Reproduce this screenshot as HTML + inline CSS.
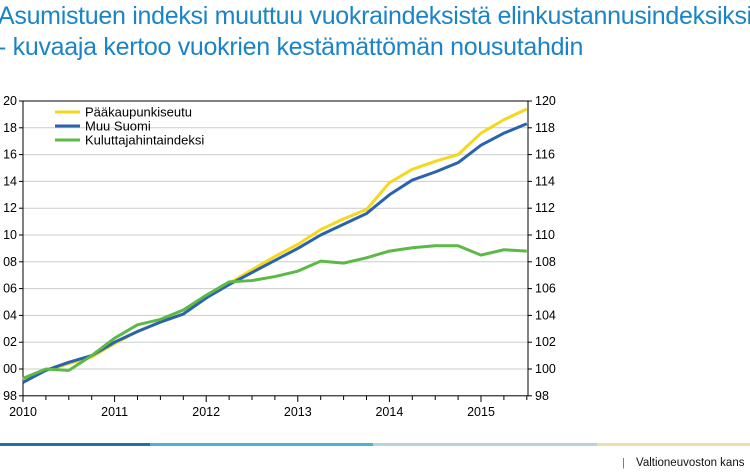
<!DOCTYPE html><html><head><style>
body{margin:0;width:750px;height:474px;background:#fff;overflow:hidden;position:relative;font-family:"Liberation Sans",sans-serif}
.t{position:absolute;left:-2px;color:#1b84c6;font-size:25px;white-space:nowrap;letter-spacing:-0.3px}
</style></head><body>
<div class="t" style="top:2px">Asumistuen indeksi muuttuu vuokraindeksistä elinkustannusindeksiksi</div>
<div class="t" style="top:33px">- kuvaaja kertoo vuokrien kestämättömän nousutahdin</div>
<svg width="750" height="474" style="position:absolute;left:0;top:0" font-family="Liberation Sans, sans-serif" font-size="12.5">
<g id="g"></g>
<rect x="0" y="443" width="150" height="3" fill="#2270a8"/>
<rect x="150" y="443" width="223" height="3" fill="#4cb3d6"/>
<rect x="373" y="443" width="224" height="3" fill="#b8d3da"/>
<rect x="597" y="443" width="153" height="3" fill="#eedfa8"/>
<text x="622" y="466" font-size="11" fill="#1b84c6">|</text>
<text x="636" y="466" font-size="11.5" fill="#111">Valtioneuvoston kans</text>
</svg>
<script>
const g=document.getElementById('g');let s='';
const X=t=>23+(t-2010)*91.6, Y=v=>369-(v-100)*13.4;
for(let v=98;v<=120;v+=2){const y=Y(v);
 if(v>98&&v<120)s+=`<line x1="23" x2="528" y1="${y}" y2="${y}" stroke="#ccc"/>`;
 s+=`<line x1="19" x2="23" y1="${y}" y2="${y}" stroke="#000"/><line x1="528" x2="532" y1="${y}" y2="${y}" stroke="#000"/>`;
 s+=`<text x="17" y="${y+4}" text-anchor="end">${String(v%100).padStart(2,'0')}</text><text x="535" y="${y+4}">${v}</text>`;}
s+=`<rect x="23" y="${Y(120)}" width="505" height="${Y(98)-Y(120)}" fill="none" stroke="#000"/>`;
for(let q=0;q<=22;q++){const x=X(2010+q/4);s+=`<line x1="${x}" x2="${x}" y1="396" y2="${q%4?400:402}" stroke="#000"/>`;}
for(let yr=2010;yr<=2015;yr++)s+=`<text x="${X(yr)}" y="416" text-anchor="middle">${yr}</text>`;
const Yl=[99.2,99.9,100.4,100.9,101.9,102.8,103.5,104.1,105.4,106.4,107.4,108.4,109.3,110.4,111.2,111.9,113.9,114.9,115.5,116.0,117.6,118.6,119.4];
const Bl=[99.0,99.9,100.5,101.0,102.0,102.8,103.5,104.1,105.3,106.3,107.2,108.1,109.0,110.0,110.8,111.6,113.0,114.1,114.7,115.4,116.7,117.6,118.3];
const Gr=[99.3,100,99.9,101.0,102.3,103.3,103.7,104.4,105.5,106.5,106.6,106.9,107.3,108.05,107.9,108.3,108.8,109.05,109.2,109.2,108.5,108.9,108.8];
const pl=(a,c)=>{s+=`<polyline fill="none" stroke="${c}" stroke-width="3" stroke-linejoin="round" points="${a.map((v,i)=>X(2010+i/4)+','+Y(v)).join(' ')}"/>`;};
pl(Yl,'#f5d81e');pl(Bl,'#2a63ad');pl(Gr,'#5cb946');
[['Pääkaupunkiseutu','#f5d81e'],['Muu Suomi','#2a63ad'],['Kuluttajahintaindeksi','#5cb946']].forEach((l,i)=>{const y=112+i*14;
 s+=`<line x1="55" x2="80" y1="${y}" y2="${y}" stroke="${l[1]}" stroke-width="3"/><text x="85" y="${y+4.5}" font-size="13">${l[0]}</text>`;});
g.innerHTML=s;
</script>
</body></html>
